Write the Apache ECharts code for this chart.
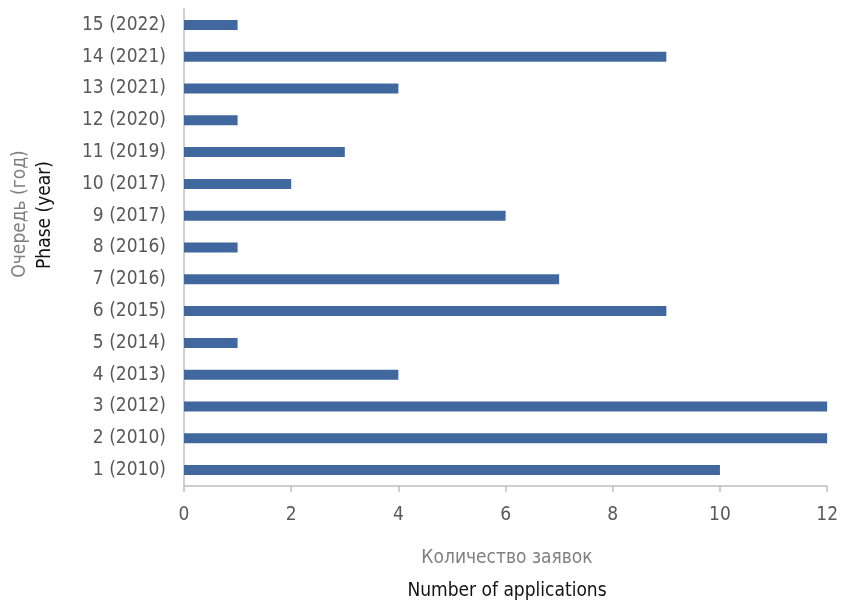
<!DOCTYPE html>
<html>
<head>
<meta charset="utf-8">
<script src="https://cdn.jsdelivr.net/npm/echarts@6/dist/echarts.min.js"></script>
<style>
html, body { margin: 0; padding: 0; background: #fff; }
#chart { width: 841px; height: 604px; }
</style>
</head>
<body>
<div id="chart"></div>
<script>
// категории снизу вверх
var phases = ['1 (2010)', '2 (2010)', '3 (2012)', '4 (2013)', '5 (2014)', '6 (2015)', '7 (2016)',
    '8 (2016)', '9 (2017)', '10 (2017)', '11 (2019)', '12 (2020)', '13 (2021)', '14 (2021)', '15 (2022)'];
var applications = [10, 12, 12, 4, 1, 9, 7, 1, 6, 2, 3, 1, 4, 9, 1];

var font = '"DejaVu Sans Condensed", "Liberation Sans Narrow", sans-serif';

var myChart = echarts.init(document.getElementById('chart'));

var options = {
    animation: false,
    grid: {
        left: 184,
        right: 12,
        top: 9,
        bottom: 118
    },
    xAxis: {
        type: 'value',
        min: 0,
        max: 12,
        interval: 2,
        axisLine: { show: true, lineStyle: { color: '#bfbfbf', width: 1.5 } },
        axisTick: { show: true, length: 6, lineStyle: { color: '#bfbfbf', width: 1.5 } },
        splitLine: { show: false },
        axisLabel: { color: '#595959', fontFamily: font, fontSize: 19, margin: 20 }
    },
    yAxis: {
        type: 'category',
        data: phases,
        axisLine: { show: true, lineStyle: { color: '#bfbfbf', width: 1.5 } },
        axisTick: { show: false },
        axisLabel: { color: '#595959', fontFamily: font, fontSize: 19, margin: 18 }
    },
    series: [{
        type: 'bar',
        data: applications,
        barWidth: 10,
        itemStyle: { color: '#41679f' }
    }],
    graphic: [
        {
            type: 'text', x: 507, y: 558,
            style: { text: 'Количество заявок', fill: '#7f7f7f', font: '19px ' + font,
                textAlign: 'center', textVerticalAlign: 'middle' }
        },
        {
            type: 'text', x: 507, y: 591,
            style: { text: 'Number of applications', fill: '#111', font: '19px ' + font,
                textAlign: 'center', textVerticalAlign: 'middle' }
        },
        {
            type: 'text', x: 20, y: 214, rotation: Math.PI / 2,
            style: { text: 'Очередь (год)', fill: '#7f7f7f', font: '19px ' + font,
                textAlign: 'center', textVerticalAlign: 'middle' }
        },
        {
            type: 'text', x: 45, y: 215, rotation: Math.PI / 2,
            style: { text: 'Phase (year)', fill: '#111', font: '19px ' + font,
                textAlign: 'center', textVerticalAlign: 'middle' }
        }
    ]
};
myChart.setOption(options);
</script>
</body>
</html>
